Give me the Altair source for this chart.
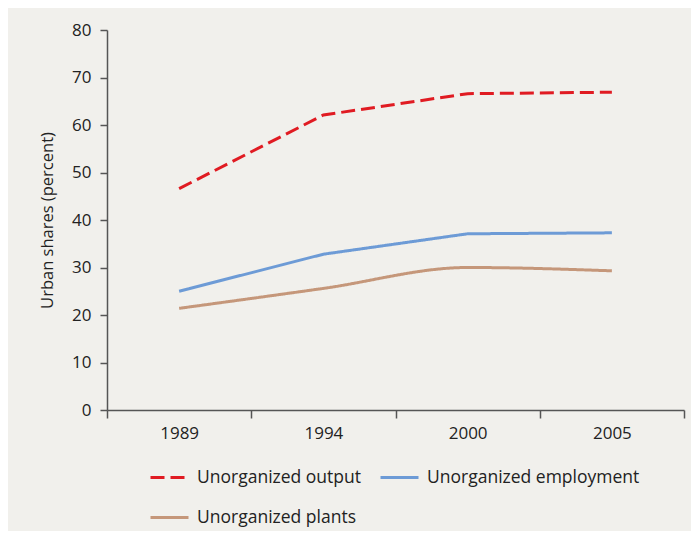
import altair as alt
import pandas as pd

years = ["1989", "1994", "2000", "2005"]
output_share = [46.6, 62.1, 66.6, 66.9]
employment_share = [25.0, 32.8, 37.1, 37.3]
plants_share = [21.4, 25.6, 30.0, 29.3]
series_names = ["Unorganized output", "Unorganized employment", "Unorganized plants"]
series_colors = ["#e01b22", "#6d9bd6", "#c5977a"]
series_dashes = [[14, 6], [1, 0], [1, 0]]

rows = []
for name, vals in zip(series_names, [output_share, employment_share, plants_share]):
    for y, v in zip(years, vals):
        rows.append({"year": y, "value": v, "series": name})
df = pd.DataFrame(rows)

FONT = "Open Sans"
AXIS_COLOR = "#555555"

x_enc = alt.X(
    "year:O",
    bandPosition=0.5,
    scale=alt.Scale(type="band", domain=years, paddingInner=0, paddingOuter=0),
    axis=alt.Axis(
        title=None, labelAngle=0, tickBand="extent", tickSize=8,
        labelPadding=7, labelFontSize=17, labelColor="#222222",
        domainColor=AXIS_COLOR, tickColor=AXIS_COLOR, domainWidth=1.5, tickWidth=1.5,
        labelFont=FONT,
    ),
)
y_enc = alt.Y(
    "value:Q",
    scale=alt.Scale(domain=[0, 80], nice=False),
    axis=alt.Axis(
        title="Urban shares (percent)", values=list(range(0, 90, 10)),
        tickSize=7, labelPadding=9, labelFontSize=17, labelColor="#222222",
        titleFontSize=16.5, titleFontWeight="normal", titleColor="#222222",
        titlePadding=16, grid=False, labelFont=FONT, titleFont=FONT,
        domainColor=AXIS_COLOR, tickColor=AXIS_COLOR, domainWidth=1.5, tickWidth=1.5,
    ),
)
color_enc = alt.Color(
    "series:N",
    scale=alt.Scale(domain=series_names, range=series_colors),
    sort=series_names,
    legend=alt.Legend(
        title=None, orient="none", legendX=42, legendY=427, direction="horizontal",
        columns=2, columnPadding=12, rowPadding=11, labelFontSize=17.5, labelOffset=7,
        padding=0, symbolType="stroke", symbolSize=1444, symbolStrokeWidth=3,
        labelLimit=400, labelFont=FONT, labelColor="#222222",
    ),
)
dash_enc = alt.StrokeDash(
    "series:N",
    scale=alt.Scale(domain=series_names, range=series_dashes),
    sort=series_names,
    legend=None,
)

base = alt.Chart(df).encode(x=x_enc, y=y_enc, color=color_enc, strokeDash=dash_enc)

straight = base.transform_filter(
    alt.FieldOneOfPredicate(field="series", oneOf=series_names[:2])
).mark_line(strokeWidth=3)

curved = base.transform_filter(
    alt.FieldEqualPredicate(field="series", equal=series_names[2])
).mark_line(strokeWidth=3, interpolate="monotone")

chart = alt.layer(straight, curved).properties(
    width=577, height=380,
    autosize=alt.AutoSizeParams(type="none"),
    padding={"left": 99, "top": 22, "right": 7, "bottom": 121},
    background="#f1f0ec",
).configure_view(stroke=None)

chart.save("out.html", embed_options={"renderer": "svg", "actions": False})
